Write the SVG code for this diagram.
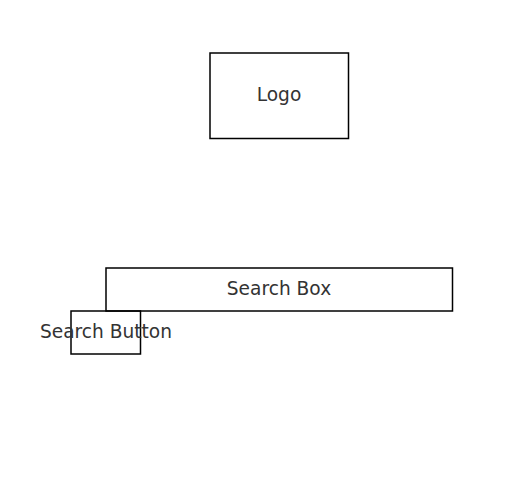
<svg xmlns="http://www.w3.org/2000/svg" width="526" height="497" viewBox="0 0 526 497">
<style>
.box{fill:none;stroke:#000;stroke-width:1.5}
.lbl{font-family:"DejaVu Sans",sans-serif;font-size:18.6px;fill:#333;text-anchor:middle;dominant-baseline:central}
</style>
<rect width="526" height="497" fill="#fff"/>
<g id="connectors"></g>
<g id="logo">
<rect class="box" x="210" y="53" width="138.5" height="85.5"/>
<text class="lbl" x="279" y="94.5">Logo</text>
</g>
<g id="search-box">
<rect class="box" x="106" y="268" width="346.5" height="43"/>
<text class="lbl" x="279" y="288">Search Box</text>
</g>
<g id="search-button">
<rect class="box" x="71" y="311" width="69.5" height="43"/>
<text class="lbl" x="106" y="331">Search Button</text>
</g>
</svg>
